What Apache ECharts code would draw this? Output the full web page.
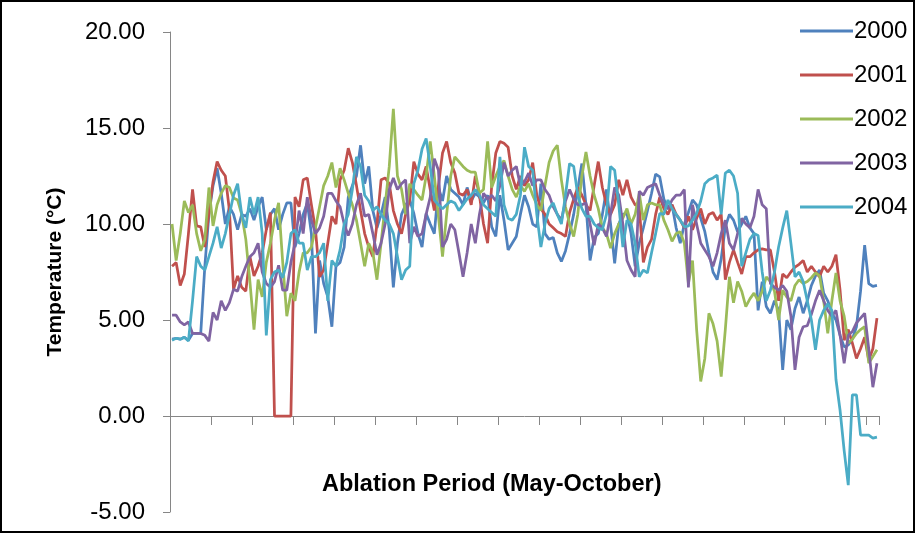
<!DOCTYPE html>
<html>
<head>
<meta charset="utf-8">
<script src="https://cdn.jsdelivr.net/npm/echarts@6/dist/echarts.min.js"></script>
<style>html,body{margin:0;padding:0;background:#fff}#c{width:918px;height:535px}</style>
</head>
<body>
<div id="c"></div>
<script>
const seriesNames = ['2000', '2001', '2002', '2003', '2004'];
const yTicks = [-5, 0, 5, 10, 15, 20];

const t2000 = [
4.0,4.05,4.0,4.1,3.95,4.3,4.3,4.3,7.8,10.5,
12.0,12.9,11.6,10.0,10.9,10.5,9.7,10.5,10.4,10.8,
10.2,10.9,11.4,9.7,10.5,10.8,9.7,10.5,11.1,11.1,
8.8,9.5,10.5,11.1,9.5,4.3,8.1,6.9,6.2,4.65,
7.8,8.0,8.8,11.4,12.0,12.5,14.1,12.1,13.0,10.7,
9.8,10.5,11.4,9.7,6.7,9.0,10.5,11.0,11.25,10.55,
9.5,8.8,10.55,10.0,9.5,11.9,11.2,12.5,11.8,11.6,
11.4,11.0,11.9,11.2,11.6,11.4,11.1,11.5,9.85,9.35,
11.5,10.2,8.65,9.0,9.35,10.5,11.5,10.9,10.0,9.85,
12.1,9.5,9.2,9.3,8.5,8.05,8.6,9.5,10.5,11.8,
13.15,11.0,8.1,9.3,9.5,10.5,11.8,10.0,7.95,10.0,
10.5,10.55,9.5,7.8,9.0,9.8,10.7,11.6,12.6,12.45,
11.3,10.8,11.0,9.8,9.0,10.0,10.6,11.25,11.0,10.3,
9.6,8.5,7.5,7.1,8.2,9.85,10.5,10.2,9.6,10.0,
10.4,9.8,9.5,5.5,7.0,5.7,5.35,6.0,5.5,2.4,
5.0,4.5,5.6,6.2,5.35,6.0,6.8,7.3,7.6,6.4,
6.0,5.35,5.0,4.2,3.6,3.7,4.0,4.65,6.5,8.9,
6.9,6.75,6.8];

const t2001 = [
7.8,8.0,6.8,7.4,9.5,11.8,9.9,9.85,8.8,10.6,
12.2,13.25,12.8,12.5,10.7,6.6,7.3,6.7,6.5,8.3,
7.3,7.8,8.5,9.7,10.6,0,0,0,0,0,
11.4,10.9,12.3,12.4,11.0,9.7,7.25,7.6,9.0,10.4,
10.0,12.3,12.8,13.95,13.2,12.0,10.7,9.5,8.8,8.3,
10.0,12.3,12.4,12.1,10.7,10.0,9.5,10.5,11.25,13.25,
12.6,12.3,13.0,11.8,10.7,12.0,13.7,14.3,13.2,12.65,
11.6,11.5,11.8,11.0,12.5,11.5,10.0,9.0,12.0,13.7,
14.3,14.2,14.0,12.5,11.8,12.5,12.0,12.3,13.2,11.5,
10.8,10.5,10.0,9.8,9.6,9.5,9.35,10.6,11.3,11.9,
11.5,11.0,10.7,12.0,13.25,11.9,11.0,10.5,11.0,12.3,
11.5,12.3,11.4,11.0,10.9,8.0,8.8,9.2,10.5,11.4,
10.8,10.5,11.0,10.5,10.2,9.8,10.4,9.7,10.3,10.8,
10.0,10.5,10.6,10.2,10.5,7.1,8.0,8.65,8.0,7.4,
8.3,8.3,8.5,8.65,8.7,8.65,8.65,7.5,6.0,7.4,
7.2,7.5,7.75,7.9,8.1,7.5,7.8,7.5,7.25,7.8,
7.5,7.8,8.4,6.55,3.95,4.5,3.8,3.0,3.5,4.1,
2.9,3.5,5.1];

const t2002 = [
10.0,8.1,9.5,11.2,10.6,11.0,9.5,8.6,9.2,11.9,
9.9,11.0,11.6,12.0,11.9,11.35,11.25,10.5,9.2,7.0,
4.5,7.1,6.2,8.0,9.0,10.2,11.1,8.0,5.2,6.4,
6.0,7.5,8.5,8.5,8.8,9.8,10.9,12.0,12.5,13.2,
11.9,12.9,12.3,11.6,11.0,10.2,9.0,7.8,9.0,8.5,
7.1,9.0,11.0,13.0,16.0,12.5,11.8,10.5,12.1,11.8,
11.5,11.25,12.5,14.3,12.5,10.4,8.3,10.5,12.5,13.5,
13.25,13.0,12.8,12.7,12.7,11.6,11.8,14.3,11.9,12.5,
13.0,13.3,12.5,11.8,11.4,12.0,11.7,12.1,11.5,11.0,
10.7,12.0,13.2,13.8,14.1,12.3,10.9,10.0,9.35,10.5,
12.5,13.75,12.5,11.5,10.8,9.8,9.5,8.75,9.5,10.0,
10.3,10.8,10.0,10.5,11.6,10.2,11.0,11.1,11.0,11.0,
10.2,9.7,9.1,9.5,9.6,9.0,6.9,8.1,4.5,1.8,
3.0,5.35,4.8,3.9,2.05,4.5,7.25,5.9,7.0,6.5,
5.7,6.1,6.4,6.0,6.5,7.25,7.0,6.5,5.0,6.55,
6.2,6.0,6.8,7.1,6.9,7.0,7.2,7.45,7.3,6.0,
4.3,6.0,7.45,6.0,5.2,3.8,4.0,4.3,4.5,4.65,
2.75,3.1,3.45];

const t2003 = [
5.25,5.25,4.9,4.75,4.9,4.3,4.3,4.3,4.2,3.9,
5.4,5.0,6.0,5.5,5.9,6.6,6.5,7.25,7.8,8.3,
8.5,9.0,7.5,6.9,6.7,7.0,7.85,6.55,6.55,8.0,
9.0,10.7,9.5,11.4,10.2,9.5,9.8,10.4,11.6,11.6,
11.2,10.9,10.0,9.4,10.0,11.0,11.6,10.4,10.5,9.5,
8.4,9.0,10.0,11.8,12.4,11.8,12.1,12.3,9.0,9.85,
9.35,9.5,10.5,11.4,13.4,12.8,8.8,9.2,10.0,9.7,
8.5,7.25,8.5,10.0,9.0,10.5,11.6,11.3,11.5,11.2,
12.0,13.2,12.5,12.8,13.0,12.0,12.2,12.65,12.0,12.3,
12.3,11.8,11.5,10.9,10.5,10.2,11.2,11.8,11.3,11.0,
11.0,11.1,10.0,8.9,10.0,9.8,9.35,10.5,11.9,11.5,
10.0,8.1,7.6,7.25,11.7,11.5,11.9,12.0,12.1,11.5,
11.0,10.8,11.25,11.5,11.5,11.8,6.7,11.0,10.0,9.0,
8.65,8.3,7.8,8.5,9.5,10.2,9.0,8.65,9.5,10.3,
10.0,9.8,10.4,11.8,11.0,10.8,6.9,6.7,6.55,6.8,
6.5,5.2,2.4,4.1,4.65,4.7,5.3,6.0,6.55,6.0,
5.5,5.2,5.5,4.2,2.75,4.2,4.4,4.85,5.1,5.35,
3.5,1.5,2.75];

const t2004 = [
3.95,4.05,4.0,4.1,3.9,6.0,8.3,7.8,7.6,8.3,
9.0,9.85,8.75,9.5,10.5,11.5,12.1,10.5,9.8,11.4,
10.5,11.4,9.5,4.2,7.1,7.5,7.6,7.2,8.0,9.5,
9.7,9.0,9.0,7.6,8.3,8.3,8.5,9.0,6.0,8.1,
7.8,8.65,10.0,10.5,11.8,13.5,13.0,11.5,11.2,10.7,
10.9,10.5,10.2,10.0,9.5,8.3,7.1,7.6,7.8,12.1,
12.8,13.9,14.45,13.0,11.25,11.0,10.8,11.0,11.2,11.1,
10.7,11.0,11.3,11.5,11.8,11.5,11.0,10.8,10.6,10.4,
13.5,11.0,10.3,10.2,10.5,11.5,14.0,13.0,12.8,10.5,
8.8,10.0,10.8,11.1,10.5,10.0,11.5,13.15,13.0,11.5,
10.8,10.4,10.4,10.0,9.8,9.7,10.5,13.0,12.8,11.0,
8.8,10.2,10.0,9.0,7.25,7.6,7.45,8.5,9.5,10.55,
10.5,11.25,10.8,10.5,10.2,9.85,9.9,10.2,10.55,11.2,
12.1,12.3,12.4,12.55,10.5,12.65,12.8,12.5,11.6,7.8,
8.5,9.2,9.5,9.4,7.5,6.0,6.55,7.5,8.8,9.8,
10.7,9.0,7.25,7.5,7.0,6.0,5.0,3.45,5.0,5.5,
5.85,5.5,1.9,0.3,-1.8,-3.6,1.1,1.1,-1.0,-1.0,
-1.0,-1.15,-1.1];

const days = t2000.map((_, i) => 'Day ' + (i + 1));
const colors = ['#4F81BD', '#C0504D', '#9BBB59', '#8064A2', '#4BACC6'];
const allData = [t2000, t2001, t2002, t2003, t2004];

const FONT = 'Liberation Sans, Arial, sans-serif';
const chart = echarts.init(document.getElementById('c'), null, {renderer: 'canvas'});
chart.setOption({
  animation: false,
  backgroundColor: '#fff',
  color: colors,
  grid: {left: 170, right: 39, top: 32, bottom: 23, containLabel: false},
  legend: {
    orient: 'vertical', left: 795, top: 14,
    itemWidth: 53, itemHeight: 3, itemGap: 20, icon: 'rect',
    textStyle: {fontFamily: FONT, fontSize: 24, color: '#000', padding: [0, 0, 0, -4]},
    data: seriesNames
  },
  xAxis: {
    type: 'category', data: days, boundaryGap: true,
    axisLine: {onZero: true, lineStyle: {color: '#868686', width: 1}},
    axisTick: {show: true, length: 9, interval: (i) => i % 10 === 0, lineStyle: {color: '#868686'}},
    axisLabel: {show: false},
    splitLine: {show: false}
  },
  yAxis: {
    type: 'value', min: yTicks[0], max: yTicks[yTicks.length - 1], interval: 5,
    name: 'Temperature (°C)', nameLocation: 'middle', nameGap: 104, nameRotate: 90,
    nameTextStyle: {fontFamily: FONT, fontSize: 21, fontWeight: 'bold', color: '#000'},
    axisLine: {show: true, lineStyle: {color: '#868686', width: 1}},
    axisTick: {show: true, length: 7, lineStyle: {color: '#868686'}},
    axisLabel: {fontFamily: FONT, fontSize: 24, color: '#000', margin: 25, formatter: v => v.toFixed(2)},
    splitLine: {show: false}
  },
  graphic: [
    {type: 'rect', silent: true, z: 100, shape: {x: 1, y: 1, width: 913, height: 531},
     style: {fill: 'none', stroke: '#000', lineWidth: 2}},
    {type: 'text', left: 322, top: 473, style: {text: 'Ablation Period (May-October)', fontFamily: FONT, fontSize: 23.5, fontWeight: 'bold', fill: '#000'}}
  ],
  series: seriesNames.map((n, k) => ({
    name: n, type: 'line', data: allData[k], symbol: 'none', showSymbol: false,
    lineStyle: {width: 2.75, color: colors[k]}, itemStyle: {color: colors[k]}
  }))
});
</script>
</body>
</html>
